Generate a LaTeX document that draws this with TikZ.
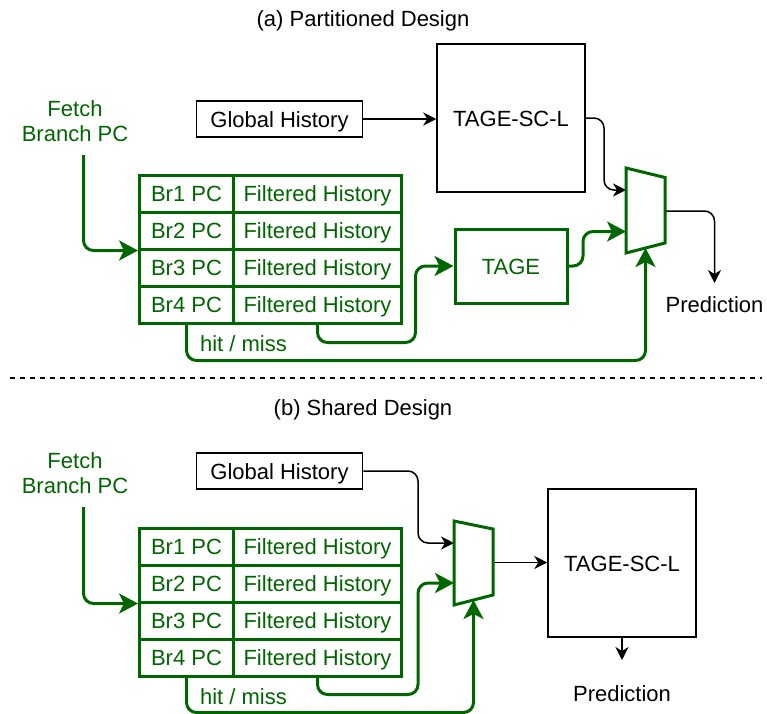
\documentclass[tikz,border=0pt]{standalone}
\usepackage{fontspec}
\setmainfont{Liberation Sans}
\usetikzlibrary{arrows.meta}
\definecolor{dg}{RGB}{0,102,0}
\begin{document}
\begin{tikzpicture}[x=1pt,y=-1pt,
 every node/.style={font=\fontsize{22}{25}\selectfont, inner sep=0pt, text height=20pt, text depth=4pt},
 bbox/.style={draw=black, line width=1.5pt, fill=white},
 gbox/.style={draw=dg, line width=3pt, text=dg},
 pccell/.style={gbox, minimum width=94pt, minimum height=37pt, anchor=north west},
 hcell/.style={gbox, minimum width=168pt, minimum height=37pt, anchor=north west},
 barrow/.style={draw=black, line width=1.5pt, rounded corners=10pt, -{Stealth[length=13pt,width=13pt,inset=4pt]}},
 garrow/.style={draw=dg, line width=3pt, rounded corners=10pt, -{Stealth[length=19pt,width=20pt,inset=5pt]}},
 mux/.style={draw=dg, line width=3pt, fill=white, line join=miter},
 gtext/.style={text=dg, align=center},
]
\useasboundingbox (0,0) rectangle (767,713);

% ---------------- (a) Partitioned Design ----------------
\node (titleA) at (363,18) {(a) Partitioned Design};
\node[gtext] (fetchA) at (75,133) {Fetch\\Branch PC};
\coordinate (fetchAs) at (83.5,155);

\node[bbox, minimum width=166pt, minimum height=36pt] (ghA) at (279.5,119) {Global History};
\node[bbox, minimum width=148pt, minimum height=148pt] (tscA) at (511,118) {TAGE-SC-L};
\node[gbox, minimum width=112pt, minimum height=74pt] (tageA) at (511,266) {TAGE};

\node[pccell] (pcA1) at (138,173.5) {Br1 PC};
\node[hcell]  (hA1)  at (232,173.5) {Filtered History};
\node[pccell] (pcA2) at (138,210.5) {Br2 PC};
\node[hcell]  (hA2)  at (232,210.5) {Filtered History};
\node[pccell] (pcA3) at (138,247.5) {Br3 PC};
\node[hcell]  (hA3)  at (232,247.5) {Filtered History};
\node[pccell] (pcA4) at (138,284.5) {Br4 PC};
\node[hcell]  (hA4)  at (232,284.5) {Filtered History};

\node[gtext] (hmA) at (243.5,343) {hit / miss};
\node (predA) at (714.5,304) {Prediction};
\coordinate (predAtip) at (714.5,283);

\coordinate (muxAin1) at (626,190);
\coordinate (muxAin2) at (626,231.5);
\coordinate (muxAsel) at (645.5,248);
\coordinate (muxAout) at (665,211);

\draw[barrow] (ghA.east) -- (ghA.east -| tscA.west);
\draw[barrow] (tscA.east) -| ([xshift=-22pt]muxAin1) -- (muxAin1);
\draw[garrow] (tageA.east) -| ([xshift=-43pt]muxAin2) -- (muxAin2);
\draw[garrow] (fetchAs) |- (pcA2.south west);
\draw[garrow] (hA4.south) -- ++(0,18) -| ([xshift=-38pt]tageA.west) -- (tageA.west);
\draw[garrow] (pcA4.south) -- ++(0,36) -| (muxAsel);
\draw[barrow] (muxAout) -| (predAtip);
\draw[mux] (626,168) -- (665,177.5) -- (665,243) -- (626,253) -- cycle;

% ---------------- separator ----------------
\draw[line width=1.5pt, dash pattern=on 5pt off 5pt] (10,378) -- (762,378);

% ---------------- (b) Shared Design ----------------
\node (titleB) at (363,407) {(b) Shared Design};
\node[gtext] (fetchB) at (75,485) {Fetch\\Branch PC};
\coordinate (fetchBs) at (83.5,507);

\node[bbox, minimum width=166pt, minimum height=36pt] (ghB) at (279.5,471) {Global History};
\node[bbox, minimum width=148pt, minimum height=148pt] (tscB) at (622,563) {TAGE-SC-L};

\node[pccell] (pcB1) at (138,526.5) {Br1 PC};
\node[hcell]  (hB1)  at (232,526.5) {Filtered History};
\node[pccell] (pcB2) at (138,563.5) {Br2 PC};
\node[hcell]  (hB2)  at (232,563.5) {Filtered History};
\node[pccell] (pcB3) at (138,600.5) {Br3 PC};
\node[hcell]  (hB3)  at (232,600.5) {Filtered History};
\node[pccell] (pcB4) at (138,637.5) {Br4 PC};
\node[hcell]  (hB4)  at (232,637.5) {Filtered History};

\node[gtext] (hmB) at (243.5,696) {hit / miss};
\node (predB) at (622,693) {Prediction};
\coordinate (predBtip) at (622,660);

\coordinate (muxBin1) at (454,543);
\coordinate (muxBin2) at (454,583);
\coordinate (muxBsel) at (473.5,600);
\coordinate (muxBout) at (493,562.5);

\draw[barrow] (ghB.east) -| ([xshift=-36pt]muxBin1) -- (muxBin1);
\draw[garrow] (hB4.south) -- ++(0,17) -| ([xshift=-36pt]muxBin2) -- (muxBin2);
\draw[garrow] (fetchBs) |- (pcB2.south west);
\draw[garrow] (pcB4.south) -- ++(0,35) -| (muxBsel);
\draw[barrow] (muxBout) -- (muxBout -| tscB.west);
\draw[barrow] (tscB.south) -- (predBtip);
\draw[mux] (454,521) -- (493,529) -- (493,595) -- (454,605) -- cycle;
\end{tikzpicture}
\end{document}
